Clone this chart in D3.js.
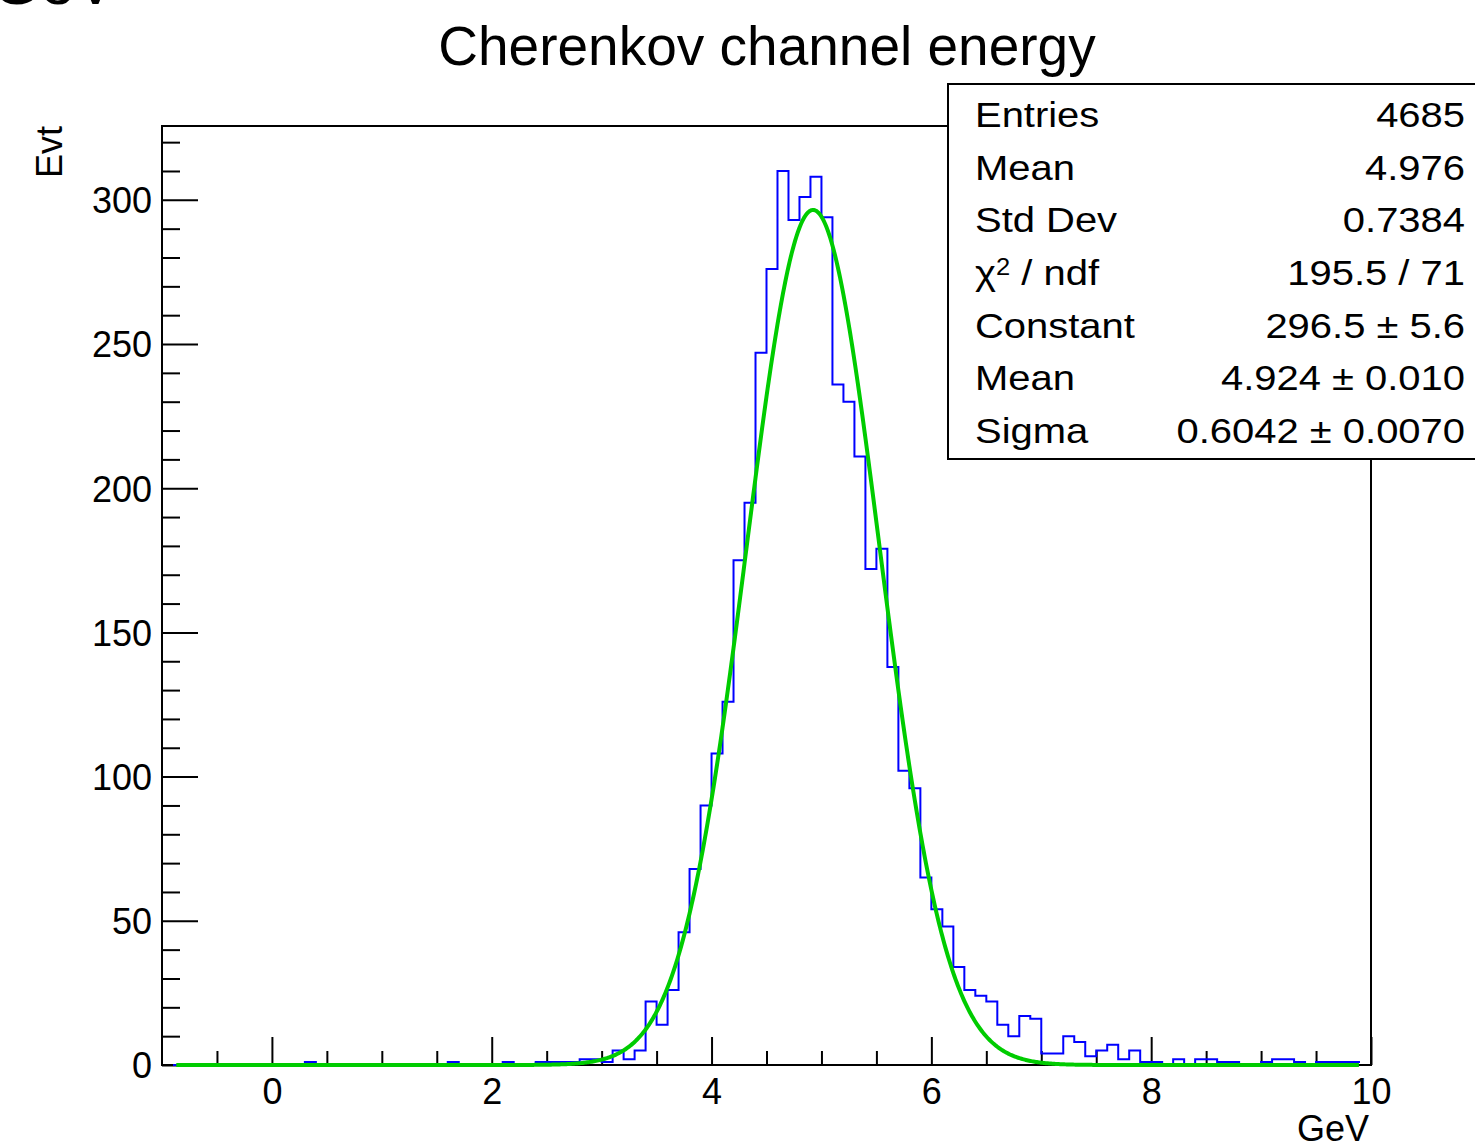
<!DOCTYPE html>
<html>
<head>
<meta charset="utf-8">
<script src="https://cdn.jsdelivr.net/npm/d3@7"></script>
<style>
  html, body { margin: 0; padding: 0; background: #fff; overflow: hidden; }
  svg { display: block; }
  text { font-family: "Liberation Sans", Arial, Helvetica, sans-serif; fill: #000; }
</style>
</head>
<body>
<svg id="chart" width="1475" height="1148"></svg>
<script>
// ---- histogram: 108 bins of 0.1 GeV starting at -0.9 GeV ----
const binLow = -0.9;
const binWidth = 0.1;
const counts = [
  0,0,0,0,0,0,0,0,0,0,0,0,          // -0.9 .. 0.2
  1,                                 // 0.3
  0,0,0,0,0,0,0,0,0,0,0,0,          // 0.4 .. 1.5
  1,                                 // 1.6
  0,0,0,0,                           // 1.7 .. 2.0
  1,0,0,1,1,1,1,2,2,                 // 2.1 .. 2.9
  1,5,2,5,22,14,26,46,68,90,         // 3.0 .. 3.9
  108,126,175,195,247,276,310,293,301,308,   // 4.0 .. 4.9
  294,236,230,211,172,179,138,102,96,65,     // 5.0 .. 5.9
  54,48,34,26,24,22,14,10,17,16,     // 6.0 .. 6.9
  4,4,10,8,3,5,7,2,5,1,              // 7.0 .. 7.9
  1,0,2,0,2,2,1,1,0,0,               // 8.0 .. 8.9
  1,2,2,1,0,1,1,1,1                  // 9.0 .. 9.8
];

// ---- gaussian fit parameters ----
const fitConstant = 296.5;
const fitMean = 4.924;
const fitSigma = 0.6042;
const fitRange = [-0.87, 9.89];

// ---- axes ----
const xDomain = [-1, 10];
const yDomain = [0, 325.6];
const xMajorTicks = [0, 2, 4, 6, 8, 10];
const xMinorTicks = [-0.5, 0.5, 1, 1.5, 2.5, 3, 3.5, 4.5, 5, 5.5, 6.5, 7, 7.5, 8.5, 9, 9.5];
const yMajorTicks = [0, 50, 100, 150, 200, 250, 300];
const yMinorTicks = [10,20,30,40,60,70,80,90,110,120,130,140,160,170,180,190,210,220,230,240,260,270,280,290,310,320];

// ---- text ----
const titleText = "Cherenkov channel energy";
const xTitle = "GeV";
const yTitle = "Evt";
const statNames = ["Entries", "Mean", "Std Dev", "χ2 / ndf", "Constant", "Mean", "Sigma"];
const statValues = ["4685", "4.976", "0.7384", "195.5 / 71", "296.5 ± 5.6", "4.924 ± 0.010", "0.6042 ± 0.0070"];

// ---- layout ----
const frame = { left: 162, right: 1371, top: 126, bottom: 1065 };
const svg = d3.select("#chart");

const x = d3.scaleLinear().domain(xDomain).range([frame.left, frame.right]);
const y = d3.scaleLinear().domain(yDomain).range([frame.bottom, frame.top]);

// axis title of the pad above, cut by the top edge
svg.append("text")
  .attr("x", -8).attr("y", 4)
  .style("font-size", "62px")
  .text(xTitle);

// title
svg.append("text")
  .attr("x", 767).attr("y", 65)
  .attr("text-anchor", "middle")
  .style("font-size", "55px")
  .text(titleText);

// frame
svg.append("rect")
  .attr("x", frame.left).attr("y", frame.top)
  .attr("width", frame.right - frame.left)
  .attr("height", frame.bottom - frame.top)
  .attr("fill", "none").attr("stroke", "#000").attr("stroke-width", 2);

// x axis: minor then major ticks, drawn inward
const gxMinor = svg.append("g").attr("transform", `translate(0,${frame.bottom})`)
  .call(d3.axisBottom(x).tickValues(xMinorTicks).tickSize(-14).tickFormat(""));
const gxMajor = svg.append("g").attr("transform", `translate(0,${frame.bottom})`)
  .call(d3.axisBottom(x).tickValues(xMajorTicks).tickSize(-28).tickPadding(13).tickFormat(d3.format("d")));

// y axis
const gyMinor = svg.append("g").attr("transform", `translate(${frame.left},0)`)
  .call(d3.axisLeft(y).tickValues(yMinorTicks).tickSize(-18).tickFormat(""));
const gyMajor = svg.append("g").attr("transform", `translate(${frame.left},0)`)
  .call(d3.axisLeft(y).tickValues(yMajorTicks).tickSize(-36).tickPadding(10).tickFormat(d3.format("d")));

[gxMinor, gxMajor, gyMinor, gyMajor].forEach(g => {
  g.select(".domain").remove();
  g.selectAll(".tick line").attr("stroke", "#000").attr("stroke-width", 2);
  g.selectAll(".tick text").style("font-size", "36px").attr("font-family", null).attr("fill", "#000");
});
gyMajor.selectAll(".tick text").attr("dy", "0.36em");

// axis titles
svg.append("text")
  .attr("x", 1369).attr("y", 1141)
  .attr("text-anchor", "end")
  .style("font-size", "36px")
  .text(xTitle);

svg.append("text")
  .attr("transform", `translate(62,${frame.top}) rotate(-90)`)
  .attr("text-anchor", "end")
  .style("font-size", "36px")
  .text(yTitle);

// histogram outline
const steps = counts.map((c, i) => [binLow + i * binWidth, c]);
steps.push([binLow + counts.length * binWidth, counts[counts.length - 1]]);
svg.append("path")
  .datum(steps)
  .attr("fill", "none")
  .attr("stroke", "#0000ff")
  .attr("stroke-width", 2)
  .attr("d", d3.line().x(d => x(d[0])).y(d => y(d[1])).curve(d3.curveStepAfter));

// gaussian fit curve
const gauss = v => fitConstant * Math.exp(-0.5 * Math.pow((v - fitMean) / fitSigma, 2));
const fitXs = d3.range(fitRange[0], fitRange[1], 0.01).concat([fitRange[1]]);
svg.append("path")
  .datum(fitXs)
  .attr("fill", "none")
  .attr("stroke", "#00cc00")
  .attr("stroke-width", 4)
  .attr("stroke-linejoin", "round")
  .attr("d", d3.line().x(d => x(d)).y(d => y(gauss(d))));

// statistics box
const box = { left: 948, top: 84, bottom: 459 };
svg.append("rect")
  .attr("x", box.left).attr("y", box.top)
  .attr("width", 1480 - box.left).attr("height", box.bottom - box.top)
  .attr("fill", "#fff").attr("stroke", "#000").attr("stroke-width", 2);

const sx = 1.11;
const statsG = svg.append("g").attr("transform", `scale(${sx},1)`);
const rowBase = 127, rowStep = 52.7;
statNames.forEach((name, i) => {
  const t = statsG.append("text")
    .attr("x", 975 / sx).attr("y", rowBase + i * rowStep)
    .style("font-size", "36px");
  if (name.startsWith("χ2")) {
    t.append("tspan").text("χ");
    t.append("tspan").attr("dy", "-0.45em").style("font-size", "23px").text("2");
    t.append("tspan").attr("dy", "0.29em").text(" / ndf");
  } else {
    t.text(name);
  }
  statsG.append("text")
    .attr("x", 1465 / sx).attr("y", rowBase + i * rowStep)
    .attr("text-anchor", "end")
    .style("font-size", "36px")
    .text(statValues[i]);
});
</script>
</body>
</html>
